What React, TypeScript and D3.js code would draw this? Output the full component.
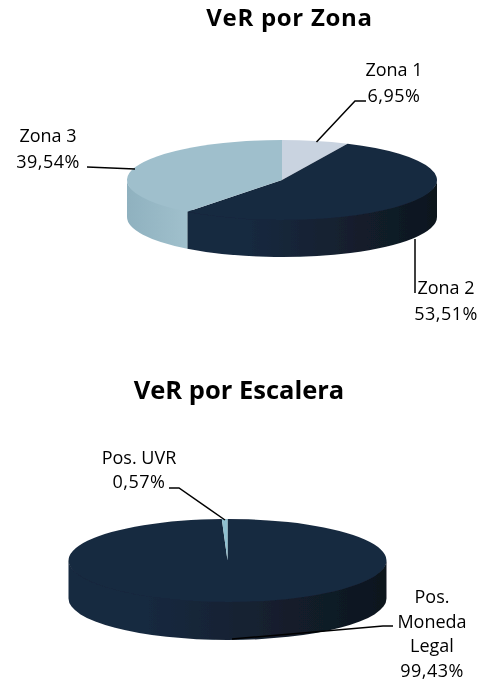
import React from "react";
import * as d3 from "d3";

const zonaNames = ["Zona 1", "Zona 2", "Zona 3"];
const zonaValues = [6.95, 53.51, 39.54];
const zonaColors = ["#c9d3e0", "#17293f", "#9fbfcc"];
const escaleraNames = ["Pos. Moneda Legal", "Pos. UVR"];
const escaleraValues = [99.43, 0.57];
const escaleraColors = ["#17293f", "#8fc0d0"];

const FONT = "'Open Sans', sans-serif";
const pct = (v: number) => `${v.toFixed(2).replace(".", ",")}%`;

type PieSpec = { id: string; cx: number; cy: number; rx: number; ry: number; depth: number };

const sideGrad: Record<string, [string, string]> = {
  "#c9d3e0": ["#b5bfcc", "#c9d3e0"],
  "#17293f": ["#0f161e", "#17293f"],
  "#9fbfcc": ["#a0c0cc", "#8fb1bf"],
  "#8fc0d0": ["#8fc0d0", "#8fc0d0"],
};

function Pie3D({ spec, values, colors }: { spec: PieSpec; values: number[]; colors: string[] }) {
  const { id, cx, cy, rx, ry, depth } = spec;
  const arcs = d3.pie<number>().sort(null)(values);
  const arcGen = d3.arc<d3.PieArcDatum<number>>().innerRadius(0).outerRadius(rx);
  const px = (a: number) => cx + rx * Math.sin(a);
  const py = (a: number) => cy - ry * Math.cos(a);
  const lo = Math.PI / 2;
  const hi = (3 * Math.PI) / 2;
  const inner = ry - 3;
  const walls = arcs
    .map((d, i) => {
      const a = Math.max(d.startAngle, lo);
      const b = Math.min(d.endAngle, hi);
      if (b <= a) return null;
      const topY = (t: number) => cy - inner * Math.cos(t);
      const path =
        `M${px(a)},${topY(a)}` +
        `A${rx},${inner} 0 0 1 ${px(b)},${topY(b)}` +
        `L${px(b)},${py(b) + depth}` +
        `A${rx},${ry} 0 0 0 ${px(a)},${py(a) + depth}Z`;
      return { path, i, x1: px(a), x2: px(b) };
    })
    .filter(Boolean) as { path: string; i: number; x1: number; x2: number }[];
  return (
    <g filter="url(#soft)">
      <defs>
        {walls.map((w) => {
          const g = sideGrad[colors[w.i]];
          return (
            <linearGradient key={w.i} id={`${id}-w${w.i}`} gradientUnits="userSpaceOnUse" x1={w.x1} x2={w.x2} y1="0" y2="0">
              <stop offset="0" stopColor={g[0]} />
              <stop offset={colors[w.i] === "#17293f" ? 0.75 : 1} stopColor={g[1]} />
            </linearGradient>
          );
        })}
      </defs>
      {walls.map((w) => (
        <path key={w.i} d={w.path} fill={`url(#${id}-w${w.i})`} />
      ))}
      <g transform={`translate(${cx},${cy}) scale(1,${ry / rx})`}>
        {arcs.map((d, i) => (
          <path key={i} d={arcGen(d) as string} fill={colors[i]} />
        ))}
      </g>
    </g>
  );
}

const lineStyle = { fill: "none", stroke: "#000", strokeWidth: 1.5 };

function Label({ x, y, lines }: { x: number; y: number[]; lines: string[] }) {
  return (
    <>
      {lines.map((t, i) => (
        <text
          key={i}
          x={x}
          y={y[i]}
          textAnchor="middle"
          fontFamily={FONT}
          fontSize={18}
          letterSpacing={t.endsWith("%") ? 0.5 : 0}
          fill="#000"
        >
          {t}
        </text>
      ))}
    </>
  );
}

export default function App() {
  const line = d3.line();
  return (
    <svg width={490} height={683} style={{ position: "absolute", left: 0, top: 0, background: "#fff" }}>
      <defs>
        <filter id="soft" x="-5%" y="-5%" width="110%" height="110%">
          <feGaussianBlur stdDeviation="0.5" />
        </filter>
        <filter id="softText" x="-5%" y="-5%" width="110%" height="110%">
          <feGaussianBlur stdDeviation="0.3" />
        </filter>
      </defs>
      <Pie3D spec={{ id: "a", cx: 282, cy: 180, rx: 155, ry: 40, depth: 37 }} values={zonaValues} colors={zonaColors} />
      <Pie3D spec={{ id: "b", cx: 227.5, cy: 560.5, rx: 159, ry: 41.5, depth: 38 }} values={escaleraValues} colors={escaleraColors} />
      <g filter="url(#softText)">
        <text x={289.5} y={25.8} textAnchor="middle" fontFamily={FONT} fontWeight={700} fontSize={24} letterSpacing={0.7} fill="#000">
          VeR por Zona
        </text>
        <path d={line([[316.5, 142], [355, 101], [366, 101]]) as string} {...lineStyle} />
        <path d={line([[415, 239], [415, 293]]) as string} {...lineStyle} />
        <path d={line([[135, 169], [87, 167]]) as string} {...lineStyle} />
        <Label x={394} y={[76, 102]} lines={[zonaNames[0], pct(zonaValues[0])]} />
        <Label x={446} y={[294, 320]} lines={[zonaNames[1], pct(zonaValues[1])]} />
        <Label x={48} y={[142, 168]} lines={[zonaNames[2], pct(zonaValues[2])]} />

        <text x={239} y={399} textAnchor="middle" fontFamily={FONT} fontWeight={700} fontSize={25.5} fill="#000">
          VeR por Escalera
        </text>
        <path d={line([[225, 520], [179, 488], [169, 488]]) as string} {...lineStyle} />
        <path d={line([[232, 639], [383, 626], [393, 626]]) as string} {...lineStyle} />
        <Label x={139} y={[464, 488]} lines={[escaleraNames[1], pct(escaleraValues[1])]} />
        <Label x={432} y={[603, 628, 652, 677]} lines={["Pos.", "Moneda", "Legal", pct(escaleraValues[0])]} />
      </g>
    </svg>
  );
}
